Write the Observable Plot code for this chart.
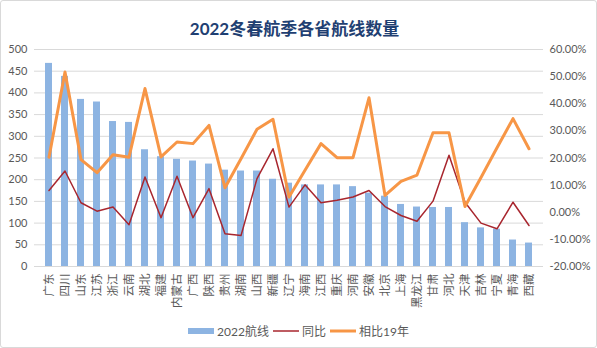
<!DOCTYPE html>
<html>
<head>
<meta charset="utf-8">
<script src="https://cdn.jsdelivr.net/npm/d3@7"></script>
<script src="https://cdn.jsdelivr.net/npm/@observablehq/plot@0.6"></script>
<style>
  html, body { margin: 0; padding: 0; background: #fff; }
  #frame { position: absolute; left: 0; top: 0; width: 595px; height: 346px; border: 1px solid #D9D9D9; border-radius: 3px; }
  #title { position: absolute; left: -4px; top: 15px; width: 597px; text-align: center; font: bold 17px "Lato", "Noto Sans CJK SC", sans-serif; color: #1F3F72; }
  #chart { position: absolute; left: 0; top: 40px; }
  #legend { position: absolute; left: 0; top: 322px; width: 597px; display: flex; justify-content: center; align-items: center; font: 12px "Lato", "Noto Sans CJK SC", sans-serif; color: #595959; }
  #legend .item { display: flex; align-items: center; margin: 0 2px; }
  #legend svg { margin-right: 3px; }
</style>
</head>
<body>
<div id="frame"></div>
<div id="title">2022冬春航季各省航线数量</div>
<div id="chart"></div>
<div id="legend"></div>
<script>
const provinces = ["广东","四川","山东","江苏","浙江","云南","湖北","福建","内蒙古","广西","陕西","贵州","湖南","山西","新疆","辽宁","海南","江西","重庆","河南","安徽","北京","上海","黑龙江","甘肃","河北","天津","吉林","宁夏","青海","西藏"];
const routes2022 = [468, 438, 385, 379, 334, 332, 269, 253, 247, 243, 236, 222, 220, 220, 201, 192, 188, 188, 188, 184, 169, 162, 143, 137, 136, 136, 101, 89, 86, 61, 54];
const yoyPct = [8.0, 15.2, 3.5, 0.4, 1.9, -4.6, 13.0, -2.0, 13.3, -2.0, 8.7, -7.9, -8.6, 12.4, 23.4, 1.9, 10.1, 3.5, 4.4, 5.6, 8.0, 2.1, -1.2, -3.3, 4.1, 21.0, 3.7, -4.0, -6.1, 3.7, -4.9];
const vs2019Pct = [20.3, 51.7, 19.4, 14.6, 21.2, 20.3, 45.6, 20.4, 25.9, 25.3, 32.0, 9.0, 19.7, 30.6, 34.3, 5.6, 15.5, 25.3, 20.1, 20.1, 42.2, 6.2, 11.4, 13.7, 29.3, 29.3, 2.1, 12.8, 23.8, 34.5, 23.4];
const leftTicks = [0, 50, 100, 150, 200, 250, 300, 350, 400, 450, 500];
const rightTicks = [-20, -10, 0, 10, 20, 30, 40, 50, 60];
const seriesNames = ["2022航线", "同比", "相比19年"];

const colors = {bar: "#8DB4E2", yoy: "#A8262E", vs19: "#F79646"};

// map right-axis percent onto the left-axis domain [0,500] <-> [-20%,60%]
const pMin = -20, pMax = 60, yMax = 500;
const toY = p => (p - pMin) * yMax / (pMax - pMin);
const fromY = v => v * (pMax - pMin) / yMax + pMin;

const data = provinces.map((p, i) => ({province: p, routes: routes2022[i], yoy: yoyPct[i], vs19: vs2019Pct[i]}));

const chart = Plot.plot({
  width: 597,
  height: 270,
  marginTop: 9,
  marginBottom: 44,
  marginLeft: 34,
  marginRight: 54,
  style: {fontFamily: "Lato, 'Noto Sans CJK SC', sans-serif", fontSize: "11px", color: "#595959", background: "transparent"},
  x: {domain: provinces, paddingInner: 0.56, paddingOuter: 0.28, label: null},
  y: {domain: [0, yMax], label: null},
  marks: [
    Plot.gridY(leftTicks, {stroke: "#D9D9D9", strokeOpacity: 1}),
    Plot.barY(data, {x: "province", y: "routes", fill: colors.bar}),
    Plot.lineY(data, {x: "province", y: d => toY(d.yoy), stroke: colors.yoy, strokeWidth: 1.5, strokeLinejoin: "round"}),
    Plot.lineY(data, {x: "province", y: d => toY(d.vs19), stroke: colors.vs19, strokeWidth: 3, strokeLinejoin: "round"}),
    Plot.axisY(leftTicks, {anchor: "left", tickSize: 0, tickPadding: 7, label: null}),
    Plot.axisY(rightTicks.map(toY), {anchor: "right", tickSize: 0, tickPadding: 6, label: null, tickFormat: v => fromY(v).toFixed(2) + "%"}),
    Plot.axisX({tickRotate: -90, tickSize: 0, tickPadding: 7, label: null, fontSize: "11.5px"})
  ]
});
document.getElementById("chart").appendChild(chart);

// legend
const legend = document.getElementById("legend");
const swatches = [
  `<svg width="26" height="8"><rect x="0" y="1" width="26" height="6" fill="${colors.bar}"/></svg>`,
  `<svg width="26" height="8"><line x1="0" x2="26" y1="4" y2="4" stroke="${colors.yoy}" stroke-width="1.5"/></svg>`,
  `<svg width="26" height="8"><line x1="0" x2="26" y1="4" y2="4" stroke="${colors.vs19}" stroke-width="3"/></svg>`
];
seriesNames.forEach((name, i) => {
  const item = document.createElement("div");
  item.className = "item";
  item.innerHTML = swatches[i] + `<span>${name}</span>`;
  legend.appendChild(item);
});
</script>
</body>
</html>
